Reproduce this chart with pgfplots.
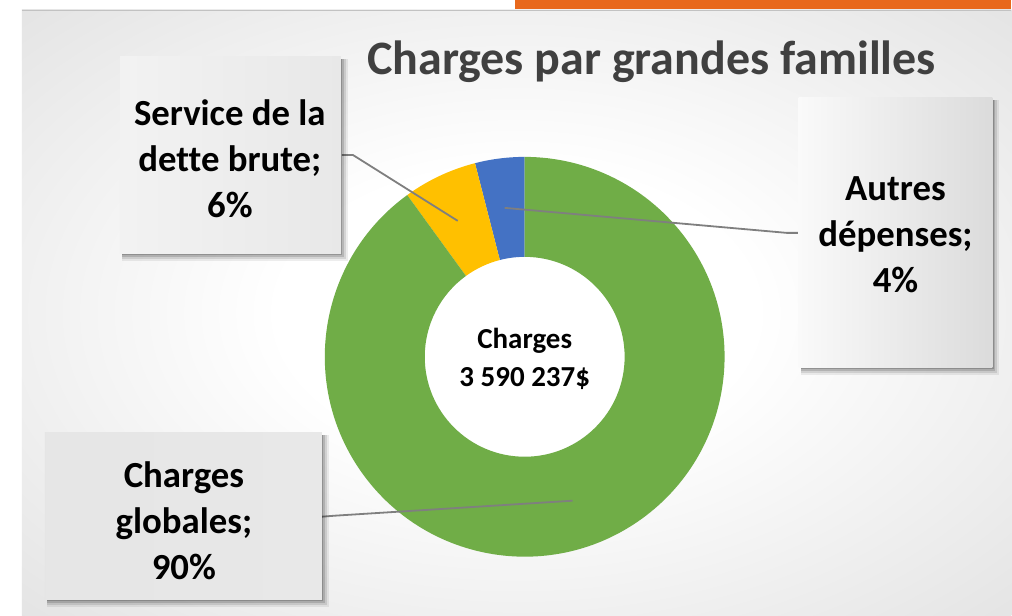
\documentclass[border=0pt]{standalone}
\usepackage{pgfplots}
\pgfplotsset{compat=1.18}
\usepackage{fontspec}
\setmainfont{Carlito}[Ligatures=NoCommon]
\definecolor{cgreen}{HTML}{70AD47}
\definecolor{cyellow}{HTML}{FFC000}
\definecolor{cblue}{HTML}{4472C4}
\definecolor{ctitle}{HTML}{404040}
\definecolor{corange}{HTML}{E8681C}
\definecolor{cline}{HTML}{7F7F7F}
\pgfdeclareradialshading{bgshade}{\pgfpoint{0bp}{0bp}}{color(0bp)=(white); color(12bp)=(white); color(50bp)=(black!17); color(71bp)=(black!24)}
% data (percent)
\def\valAutres{4}
\def\valDette{6}
\def\valGlob{90}
\pgfmathsetmacro{\aA}{90}
\pgfmathsetmacro{\aB}{\aA+3.6*\valAutres}
\pgfmathsetmacro{\aC}{\aB+3.6*\valDette}
\pgfmathsetmacro{\aD}{\aC+3.6*\valGlob}
\newcommand\slice[3]{\fill[#3] ([shift={(#1:100pt)}]c) arc[start angle=#1,end angle=#2,radius=100pt] -- ([shift={(#2:50pt)}]c) arc[start angle=#2,end angle=#1,radius=50pt] -- cycle;}
\newcommand\shbox[6]{%
  \fill[black,opacity=0.07] (axis cs:#1+2,#2-7) rectangle (axis cs:#3+7,#4-2);
  \fill[black,opacity=0.10] (axis cs:#1+2,#2-5) rectangle (axis cs:#3+5,#4-2);
  \fill[black,opacity=0.14] (axis cs:#1+2,#2-3) rectangle (axis cs:#3+3,#4-2);
  \fill[black,opacity=0.18] (axis cs:#1+2,#2-1.5) rectangle (axis cs:#3+1.5,#4-2);
  \shade[left color=#5, right color=#6] (axis cs:#1,#2) rectangle (axis cs:#3,#4);}
\begin{document}
\begin{tikzpicture}
\begin{axis}[x=0.5pt,y=0.5pt,xmin=0,xmax=1012,ymin=0,ymax=616,axis lines=none,ticks=none,clip=false]
\fill[white] (axis cs:0,0) rectangle (axis cs:1012,616);
\shade[shading=bgshade] (axis cs:22,0) rectangle (axis cs:1012,606);
\draw[black!24, line width=0.6pt] (axis cs:22,605.5) -- (axis cs:1012,605.5);
\fill[corange] (axis cs:515,607) rectangle (axis cs:1012,616);
% donut
\coordinate (c) at (axis cs:525,259);
\slice{\aA}{\aB}{cblue}
\slice{\aB}{\aC}{cyellow}
\slice{\aC}{\aD}{cgreen}
% leader lines
\addplot[cline, line width=0.9pt, mark=none] coordinates {(342,461) (353,461) (458,395)};
\addplot[cline, line width=0.9pt, mark=none] coordinates {(505,408) (787,383) (800,383)};
\addplot[cline, line width=0.9pt, mark=none] coordinates {(322,99) (335,100) (573,115)};
% boxes
\shbox{120}{362}{341}{559}{black!5}{black!9}
\shbox{799}{248}{993}{518}{black!2}{black!14}
\shbox{45}{16}{322}{183}{black!10}{black!9}
% texts
\node[font=\bfseries\fontsize{18.4}{23}\selectfont, align=center] at (axis cs:230,457) {Service de la\\dette brute;\\6\%};
\node[font=\bfseries\fontsize{18.4}{23}\selectfont, align=center] at (axis cs:896,381) {Autres\\dépenses;\\4\%};
\node[font=\bfseries\fontsize{18.4}{23}\selectfont, align=center] at (axis cs:184,95) {Charges\\globales;\\90\%};
\node[font=\bfseries\fontsize{24}{28}\selectfont, text=ctitle, anchor=base] at (axis cs:652,541) {Charges par grandes familles};
\node[font=\bfseries\fontsize{14.5}{19}\selectfont, align=center] at (axis cs:525,257) {Charges\\3 590 237\$};
\end{axis}
\end{tikzpicture}
\end{document}
